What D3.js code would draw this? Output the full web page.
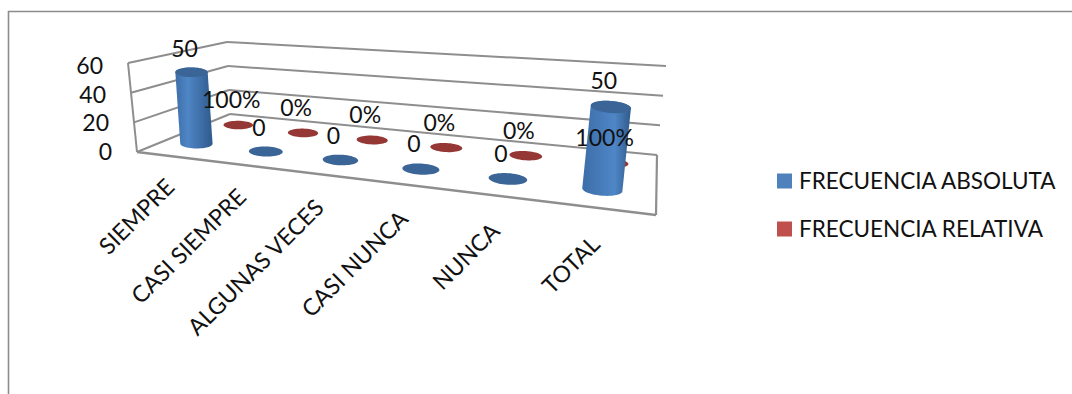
<!DOCTYPE html>
<html><head><meta charset="utf-8">
<script src="https://cdn.jsdelivr.net/npm/d3@7/dist/d3.min.js"></script>
<style>html,body{margin:0;background:#fff}svg{display:block}text{font-family:Lato,sans-serif;fill:#111}</style>
</head><body><div id="chart"></div>
<script>
const categories = ["SIEMPRE","CASI SIEMPRE","ALGUNAS VECES","CASI NUNCA","NUNCA","TOTAL"];
const absoluta = [50,0,0,0,0,50];
const relativa = [1,0,0,0,0,1];
const valueTicks = [0,20,40,60];
const seriesNames = ["FRECUENCIA ABSOLUTA","FRECUENCIA RELATIVA"];

const W=1072,H=394;
const svg=d3.select("#chart").append("svg").attr("width",W).attr("height",H);
const defs=svg.append("defs");

// Floor corners of the 3D plot box, and the lean of the vertical edges at full height
const FL=[137,152],FR=[656,215],BR=[657,155],BL=[230,114];
const upFL=[-9,-89],upFR=[13,-105],upBR=[9,-89],upBL=[-3,-72];

// Unit square to floor quadrilateral, perspective mapping
function homography(p0,p1,p2,p3){
  const dx1=p1[0]-p2[0],dx2=p3[0]-p2[0],sx=p0[0]-p1[0]+p2[0]-p3[0];
  const dy1=p1[1]-p2[1],dy2=p3[1]-p2[1],sy=p0[1]-p1[1]+p2[1]-p3[1];
  const den=dx1*dy2-dx2*dy1;
  const g=(sx*dy2-dx2*sy)/den,h=(dx1*sy-sx*dy1)/den;
  const a=p1[0]-p0[0]+g*p1[0],b=p3[0]-p0[0]+h*p3[0],c=p0[0];
  const d=p1[1]-p0[1]+g*p1[1],e=p3[1]-p0[1]+h*p3[1],f=p0[1];
  return (u,v)=>{const w=g*u+h*v+1;return [(a*u+b*v+c)/w,(d*u+e*v+f)/w];};
}
const floor=homography(FL,FR,BR,BL);

const xBand=d3.scaleBand().domain(categories).range([0,1]);
const center=c=>xBand(c)+xBand.bandwidth()/2;
const yVal=d3.scaleLinear().domain([0,60]).range([0,1]);

// Each series sits on its own row of the floor; nearer and further right means larger
const absSeries={name:"abs",v:0.27,shift:-0.006,
  rx:d3.scaleLinear().domain([0,1]).range([15.8,20.5]),ry:d3.scaleLinear().domain([0,1]).range([4.7,6.2]),
  colors:{edge:"#3c6ea8",light:"#4f86c6",dark:"#2f5a8c",cap:"#3b6597"}};
const relSeries={name:"rel",v:0.72,shift:0,
  rx:d3.scaleLinear().domain([0,1]).range([14.5,17]),ry:d3.scaleLinear().domain([0,1]).range([4.2,4.8]),
  colors:{edge:"#a04542",light:"#c0504d",dark:"#8f3c3a",cap:"#953735"}};

function project(u,v,val){
  const p=floor(u,v),k=yVal(val);
  const top=(a,b,c,d)=>(1-v)*((1-u)*a+u*b)+v*((1-u)*d+u*c);
  return [p[0]+k*top(upFL[0],upFR[0],upBR[0],upBL[0]),
          p[1]+k*top(upFL[1],upFR[1],upBR[1],upBL[1])];
}
// Ellipse for a round bar section, very slightly tilted towards the right side of the plot
const ring=(s,u,val)=>{
  const c=project(u,s.v,val),tilt=0.08*u;
  return d3.range(48).map(i=>{
    const a=i/48*2*Math.PI,dx=s.rx(u)*Math.cos(a);
    return [c[0]+dx,c[1]+s.ry(u)*Math.sin(a)+tilt*dx];
  });
};
const closed=d3.line().curve(d3.curveLinearClosed);
const gray="#8e8e8e";

// Outer frame
svg.append("path").attr("d",`M8.5,394V11.5H1072`).attr("fill","none").attr("stroke","#8c8c8c").attr("stroke-width",1.6);

// Walls and floor
const box=svg.append("g").attr("fill","none").attr("stroke",gray).attr("stroke-width",2);
const seg=(a,b,w)=>box.append("path").attr("d",d3.line()([a,b])).attr("stroke-width",w||2);
valueTicks.forEach(t=>{
  seg(project(0,0,t),project(0,1,t));
  seg(project(0,1,t),project(1,1,t));
});
seg(project(0,0,0),project(0,0,60));
seg(FL,FR,2.4);seg(FR,BR,2.2);

// Value axis labels
svg.append("g").selectAll("text").data(valueTicks).join("text")
  .attr("x",d=>project(0,0,d)[0]-25).attr("y",d=>project(0,0,d)[1]+8+d/20)
  .attr("text-anchor","end").attr("font-size",23).text(d=>d);

// Category labels, rotated and ending under their own column
svg.append("g").selectAll("text").data(categories).join("text")
  .attr("transform",d=>{
    const u=center(d),p=project(u,0,0);
    return `translate(${p[0]+5-6*u},${p[1]+32+6*u}) rotate(-45)`;
  })
  .attr("text-anchor","end").attr("font-size",23).text(d=>d);

// Cylinders, far series first
function cylinders(values,s){
  const g=svg.append("g"),c=s.colors;
  values.forEach((val,i)=>{
    const u=center(categories[i])+s.shift;
    const id=`${s.name}${i}`,light=0.3+0.4*u;
    const gr=defs.append("linearGradient").attr("id",id);
    gr.append("stop").attr("offset",0).attr("stop-color",c.edge);
    gr.append("stop").attr("offset",light).attr("stop-color",c.light);
    gr.append("stop").attr("offset",1).attr("stop-color",c.dark);
    if(val>1){
      const hull=d3.polygonHull(ring(s,u,0).concat(ring(s,u,val)));
      g.append("path").attr("d",closed(hull)).attr("fill",`url(#${id})`);
    }
    g.append("path").attr("d",closed(ring(s,u,val))).attr("fill",c.cap);
  });
}
cylinders(relativa,relSeries);
cylinders(absoluta,absSeries);

// Data labels
const labels=svg.append("g").attr("font-size",23).attr("text-anchor","middle");
function dataLabels(values,s,fmt,dy,dyRight){
  const at=(d,i)=>project(center(categories[i])+s.shift,s.v,d);
  labels.selectAll(null).data(values).join("text")
    .attr("x",(d,i)=>at(d,i)[0]-7)
    .attr("y",(d,i)=>at(d,i)[1]+dy+dyRight*center(categories[i]))
    .text(fmt);
}
dataLabels(relativa,relSeries,d=>`${d*100}%`,-17,0);
dataLabels(absoluta,absSeries,d=>d,-15,-3);

// Legend
const legend=svg.append("g");
const swatch=d3.scaleOrdinal().domain(seriesNames).range(["#4f81bd","#c0504d"]);
const legendY=d3.scalePoint().domain(seriesNames).range([181,229]);
seriesNames.forEach(n=>{
  legend.append("rect").attr("x",777).attr("y",legendY(n)-7.5).attr("width",15).attr("height",15).attr("fill",swatch(n));
  legend.append("text").attr("x",799).attr("y",legendY(n)+8).attr("font-size",22.5).text(n);
});
</script></body></html>
